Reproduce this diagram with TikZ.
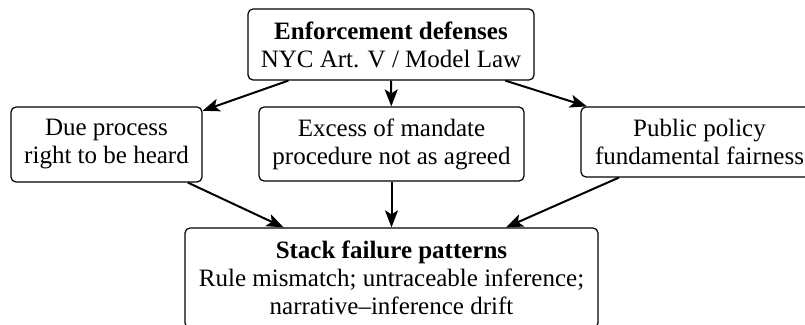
\documentclass[tikz,border=0pt]{standalone}
\usepackage{fontspec}
\setmainfont{Liberation Serif}
\usetikzlibrary{arrows.meta}
\begin{document}
\begin{tikzpicture}[x=0.5pt,y=-0.5pt,
  box/.style={draw=black, line width=0.6pt, rounded corners=2.5pt, align=center,
    inner sep=0pt, font=\fontsize{12.5}{14}\selectfont},
  arr/.style={line width=1pt, -{Stealth[length=8.5pt,width=6.5pt,inset=2pt]}}]
\clip (0,0) rectangle (805,325);
\node[box, minimum width=143pt, minimum height=35.5pt] (top) at (391,44.5)
  {\textbf{Enforcement defenses}\\NYC Art. V / Model Law};
\node[box, minimum width=95.5pt, minimum height=37.5pt] (left) at (106.5,144.5)
  {Due process\\right to be heard};
\node[box, minimum width=132.5pt, minimum height=37pt] (mid) at (391.5,144)
  {Excess of mandate\\procedure not as agreed};
\node[box, minimum width=118.5pt, minimum height=35pt] (right) at (699.5,142)
  {Public policy\\fundamental fairness};
\node[box, minimum width=206.5pt, minimum height=50pt] (bot) at (391.5,278)
  {\textbf{Stack failure patterns}\\Rule mismatch; untraceable inference;\\narrative--inference drift};
\draw[arr] (top) -- (left);
\draw[arr] (top) -- (mid);
\draw[arr] (top) -- (right);
\draw[arr] (left) -- (bot);
\draw[arr] (mid) -- (bot);
\draw[arr] (right) -- (bot);
\end{tikzpicture}
\end{document}
